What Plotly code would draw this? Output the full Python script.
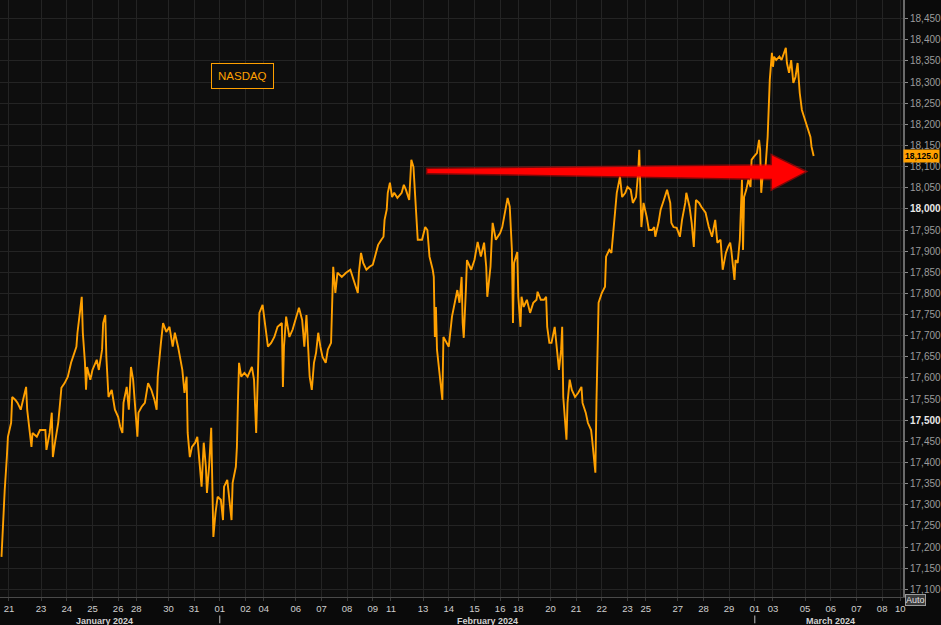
import plotly.graph_objects as go
from datetime import date, timedelta

# Trading hours elapsed since Sun 21 Jan 2024 18:00 (weekend closures removed)
hours = [-7, -6, -4, -2, -1, 2, 3, 6, 8, 11, 13, 16, 17, 19, 21, 22, 26, 29, 34, 35, 38, 40, 41, 43, 46, 48, 49,
         52, 55, 58, 61, 63, 64, 66, 68, 69, 71, 72, 73, 76, 78, 82, 84, 87, 88, 90, 91, 93, 96, 99, 102, 104, 106,
         107, 110, 112, 114, 116, 118, 120, 121, 124, 127, 130, 133,
         136, 138, 139, 142, 144, 147, 150, 153, 155, 158, 160, 162, 164, 166, 167, 168, 169, 171, 174, 176, 178,
         180, 182, 184, 185, 187, 189, 190, 191, 193, 195, 198, 200, 201, 204, 208, 209, 212, 213, 214, 215, 217,
         220, 223, 227, 229, 230, 231, 233, 234, 237, 240, 242, 245, 248, 251, 255, 256, 257, 259, 262, 265, 269, 271,
         274, 276, 278, 280, 281, 283, 285, 287, 289, 291, 293, 296, 298, 301, 302, 303, 305, 307, 311, 315, 319, 321,
         324, 326, 327, 329, 331, 334, 337, 340, 343, 345, 348, 350, 351, 353, 354, 356, 358, 360, 363, 367, 369, 371,
         374, 376, 378, 380, 381, 382, 386, 389, 391, 393, 396, 397, 398, 399, 400, 402, 404, 405, 406, 409, 411,
         414, 417, 419, 421, 423, 424, 425, 427, 428, 432, 435, 438, 441, 444, 446, 447, 450, 451, 452, 455, 459, 461,
         465, 466, 468, 470, 471, 472, 475, 476, 478, 479, 481, 484, 487, 490, 493, 494, 497, 500, 502, 503, 505, 507,
         510, 512, 514, 516, 517, 518, 520, 521, 522, 524, 526, 529, 532, 535, 536, 539, 541, 544, 545, 547, 548, 549,
         550, 551, 554, 557, 558, 560,
         561, 563, 566, 568, 571, 573, 576, 578, 581, 583, 586, 588, 589, 590, 591, 593, 596, 598, 601, 603, 604, 607,
         609, 612, 615, 618, 619, 621, 624, 627, 629, 632, 633, 636, 638, 640, 642, 645, 647, 651, 654, 657, 660, 662,
         665, 667, 670, 672, 674, 675, 678, 679, 681, 683, 684, 685, 686, 687, 689, 691, 693, 694, 696, 699, 701, 702,
         703, 705, 707, 709, 711, 713, 714, 715, 717, 720, 722, 726, 727, 729, 731, 733, 735, 737, 739, 741, 743, 745,
         747, 749, 750, 752]

prices = [17177, 17241, 17335, 17413, 17461, 17494, 17555, 17548, 17541, 17525, 17548, 17579, 17525, 17484, 17437,
          17470, 17461, 17477, 17477, 17430, 17470, 17518, 17413, 17447, 17494, 17548, 17577,
          17588, 17603, 17636, 17660, 17674, 17707, 17754, 17792, 17707, 17636, 17572, 17626, 17596, 17619, 17643,
          17619, 17667, 17730, 17749, 17650, 17555, 17572, 17525, 17508, 17484, 17470,
          17541, 17579, 17525, 17626, 17596, 17518, 17461, 17518, 17532, 17541, 17588, 17572,
          17548, 17525, 17603, 17683, 17730, 17709, 17721, 17674, 17707, 17674, 17643, 17619, 17565, 17603, 17470,
          17437, 17413, 17437, 17447, 17461, 17390,
          17343, 17447, 17390, 17328, 17390, 17482, 17295, 17224, 17281, 17319, 17312, 17264, 17343, 17359, 17264,
          17352, 17390, 17437, 17548, 17636, 17603,
          17612, 17603, 17626, 17596, 17532, 17470, 17643, 17754, 17773, 17714, 17674, 17683, 17697, 17721, 17730,
          17579, 17674, 17745, 17697, 17714, 17745, 17766,
          17737, 17674, 17749, 17667, 17603, 17572, 17636, 17660, 17707, 17674, 17650, 17636, 17667, 17683, 17754,
          17863, 17801, 17849, 17839, 17849, 17856, 17839,
          17816, 17801, 17849, 17896, 17872, 17856, 17863, 17868, 17896, 17915, 17927, 17934, 17974, 17998, 18038,
          18062, 18028, 18038, 18026, 18038, 18057, 18045,
          18021, 18116, 18099, 18005, 17943, 17927, 17927, 17957, 17950, 17887, 17856, 17839, 17697, 17768, 17667,
          17619, 17572, 17548, 17697, 17683, 17674,
          17745, 17785, 17808, 17778, 17839, 17730, 17695, 17808, 17879, 17856, 17879, 17922, 17887, 17920, 17863,
          17792, 17863, 17920, 17967, 17927, 17943, 17957,
          18014, 18026, 18005, 17903, 17730, 17872, 17898, 17792, 17721, 17792, 17768, 17785, 17754, 17778, 17785,
          17804, 17785, 17785, 17792, 17721, 17683, 17683,
          17721, 17667, 17619, 17667, 17721, 17555, 17494, 17454, 17541, 17596, 17572, 17555, 17565, 17579, 17541,
          17518, 17494, 17477, 17454, 17390, 17376, 17541,
          17660, 17778, 17801, 17816, 17887, 17896,
          17903, 17896, 17974, 18038, 18076, 18028, 18038, 18052, 18045, 18014, 18028, 18085, 18140, 18052, 17957,
          18014, 17981, 17950, 17950, 17957, 17934, 17967,
          17998, 18021, 18045, 18014, 17967, 17957, 17955, 17934, 17974, 18014, 18038, 18005, 17967, 17910, 18021,
          18014, 18005, 17991, 17957, 17934, 17974, 17920,
          17927, 17856, 17896, 17910, 17920, 17903, 17832, 17879, 17872, 17927, 18014, 18069, 17903, 18028, 18045,
          18069, 18052, 18116, 18123, 18132, 18163, 18140,
          18038, 18099, 18099, 18170, 18305, 18369, 18336, 18360, 18352, 18360, 18352, 18381, 18345, 18322, 18352,
          18298, 18312, 18345, 18274, 18234, 18218, 18203,
          18187, 18170, 18147, 18125]

series_name = "NASDAQ"
last_price_label = "18,125.0"
month_labels = ["January 2024", "February 2024", "March 2024"]
first_sunday = date(2024, 1, 21)
n_weeks = 8
y_ticks = [17100, 17150, 17200, 17250, 17300, 17350, 17400, 17450, 17500, 17550, 17600, 17650, 17700,
           17750, 17800, 17850, 17900, 17950, 18000, 18050, 18100, 18150, 18200, 18250, 18300, 18350,
           18400, 18450]
bold_ticks = [17500, 18000]

# x ticks: Sunday session open, then Tue..Fri midnights (Mondays unlabelled)
tickvals, ticktext = [], []
for k in range(n_weeks):
    sun = first_sunday + timedelta(days=7 * k)
    base = 119 * k
    tickvals.append(base)
    ticktext.append(f"{sun.day:02d}")
    if k == n_weeks - 1:
        break
    for j in range(1, 5):
        d = sun + timedelta(days=j + 1)
        tickvals.append(base + 6 + 24 * j)
        ticktext.append(f"{d.day:02d}")

y_text = []
for t in y_ticks:
    s = f"{t:,}"
    if t in bold_ticks:
        y_text.append(f"<b><span style='color:#e8e8e8'>{s}</span></b>")
    else:
        y_text.append(s)

ORANGE = "#ffa000"
FONT = "Liberation Sans"

fig = go.Figure()
fig.add_trace(go.Scatter(x=hours, y=prices, mode="lines", name=series_name,
                         line=dict(color=ORANGE, width=1.9), hoverinfo="x+y"))

fig.update_layout(
    width=941, height=625,
    margin=dict(l=0, r=36, t=0, b=28),
    paper_bgcolor="#0a0a0a",
    plot_bgcolor="#0e0e0e",
    showlegend=False,
    font=dict(family=FONT, color="#bdbdbd", size=10),
    xaxis=dict(range=[-8.4, 835.5], tickmode="array", tickvals=tickvals, ticktext=ticktext,
               showgrid=True, gridcolor="#242424", gridwidth=1, zeroline=False,
               showline=True, linecolor="#4a4a4a", ticks="outside", ticklen=3, tickcolor="#3a3a3a",
               tickfont=dict(family=FONT, size=9.5, color="#cfcfcf")),
    yaxis=dict(side="right", range=[17082, 18494], tickmode="array", tickvals=y_ticks, ticktext=y_text,
               showgrid=True, gridcolor="#242424", gridwidth=1, zeroline=False,
               showline=True, linecolor="#6a6a6a", linewidth=2, ticks="outside", ticklen=3, tickcolor="#8a8a8a",
               tickfont=dict(family=FONT, size=10, color="#9c9c9c")),
)

# red arrow (annotation graphic)
arrow_path = ("M 391,18094 L 713,18103 L 713,18126 L 744,18088 L 713,18047 L 713,18071 L 391,18085 Z")
fig.add_shape(type="path", path=arrow_path, xref="x", yref="y",
              fillcolor="#ff0000", line=dict(color="rgba(255,0,0,0.45)", width=3), layer="above")

annotations = [
    dict(x=0.268, y=0.8735, xref="paper", yref="paper", text=series_name, showarrow=False,
         font=dict(family=FONT, size=11.5, color=ORANGE), bordercolor=ORANGE, borderwidth=1,
         borderpad=6, bgcolor="#0e0e0e", xanchor="center", yanchor="middle"),
    dict(x=1.0, y=18125, xref="paper", yref="y", text=f"<b>{last_price_label}</b>", showarrow=False,
         font=dict(family=FONT, size=8.5, color="#000000"), bgcolor=ORANGE, borderpad=1,
         xanchor="left", yanchor="middle", xshift=0),
    dict(x=1.0, y=-0.005, xref="paper", yref="paper", text="Auto", showarrow=False,
         font=dict(family=FONT, size=9, color="#e0e0e0"), bgcolor="#3a3a3a", bordercolor="#9a9a9a",
         borderwidth=1, borderpad=0, xanchor="left", yanchor="middle", xshift=2),
]
month_x = [0.116, 0.540, 0.920]
for m, mx in zip(month_labels, month_x):
    annotations.append(dict(x=mx, y=-0.0405, xref="paper", yref="paper", text=f"<b>{m}</b>",
                            showarrow=False, font=dict(family=FONT, size=9, color="#d2d2d2"),
                            xanchor="center", yanchor="middle", borderpad=0))
fig.update_layout(annotations=annotations)

# month separators (Feb 1 and Mar 1 midnights)
for sep in [197, 697]:
    fig.add_shape(type="line", x0=sep, x1=sep, xref="x", yref="paper", y0=-0.031, y1=-0.044,
                  line=dict(color="#bdbdbd", width=1))

fig.write_html("out.html", config={"displayModeBar": False},
               post_script="document.body.style.margin='0px';document.body.style.background='#0a0a0a';document.body.style.overflow='hidden';")
